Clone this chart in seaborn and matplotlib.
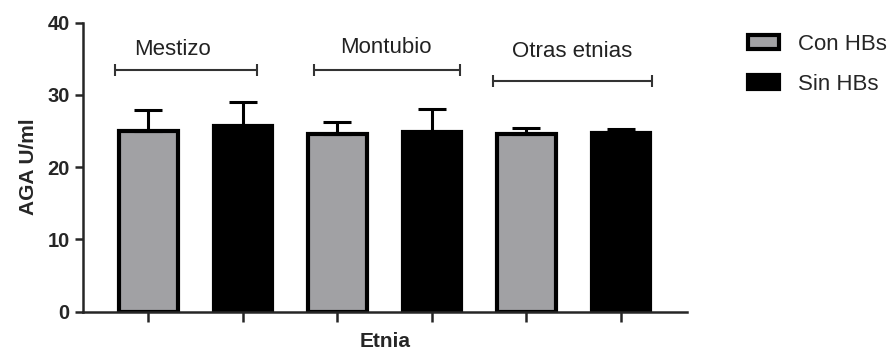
import seaborn as sns
import matplotlib.pyplot as plt
import pandas as pd
import numpy as np

# valores (media y error superior)
etnias = ["Mestizo", "Montubio", "Otras etnias"]
grupos = ["Con HBs", "Sin HBs"]
media_con = [25.0, 24.6, 24.6]
media_sin = [25.7, 24.9, 24.7]
error_con = [2.9, 1.6, 0.8]
error_sin = [3.3, 3.2, 0.6]

# corchetes sobre cada etnia: inicio, fin, altura; posicion del texto
corchete_ini = [-0.35, 1.75, 3.65]
corchete_fin = [1.15, 3.30, 5.33]
corchete_y = [33.4, 33.4, 31.9]
texto_x = [0.26, 2.51, 4.48]
texto_y = [36.3, 36.5, 36.0]

rows = []
for i, et in enumerate(etnias):
	rows.append({"pos": et + " Con", "valor": media_con[i], "err": error_con[i], "grupo": grupos[0]})
	rows.append({"pos": et + " Sin", "valor": media_sin[i], "err": error_sin[i], "grupo": grupos[1]})
df = pd.DataFrame(rows)

sns.set_style("ticks")
plt.rcParams['font.family'] = ['Liberation Sans', 'DejaVu Sans']

fig = plt.figure(figsize=(8.91, 3.54), dpi=100)
ax = fig.add_axes([0.0932, 0.1195, 0.678, 0.8165])

sns.barplot(data=df, x="pos", y="valor", hue="grupo", dodge=False, width=0.62,
	palette={"Con HBs": "#a0a0a5", "Sin HBs": "black"}, edgecolor="black",
	linewidth=3, errorbar=None, ax=ax)

xs = np.arange(len(df))
ax.errorbar(xs, df["valor"], yerr=[np.zeros(len(df)), df["err"]], fmt="none",
	ecolor="black", elinewidth=2.2, capsize=10, capthick=2.2, zorder=1)

for i, et in enumerate(etnias):
	ax.plot([corchete_ini[i], corchete_fin[i]], [corchete_y[i]] * 2, color="#333333",
		lw=1.5, marker="|", markersize=9, mew=1.5, clip_on=False)
	ax.text(texto_x[i], texto_y[i], et, ha="center", va="center", fontsize=16, color="#222222")

ax.set_ylim(0, 40)
ax.set_xlim(-0.69, 5.70)
ax.set_yticks([0, 10, 20, 30, 40])
ax.set_xticks(xs)
ax.set_xticklabels([])
ax.tick_params(axis="both", width=1.8, length=6, labelsize=14.5)
ax.tick_params(axis="x", length=7)
for lab in ax.get_yticklabels():
	lab.set_fontweight("bold")
for sp in ["left", "bottom"]:
	ax.spines[sp].set_linewidth(1.8)
sns.despine(ax=ax)

ax.set_ylabel("AGA U/ml", fontsize=15, fontweight="bold", labelpad=7)
ax.set_xlabel("Etnia", fontsize=15, fontweight="bold", labelpad=4)

sns.move_legend(ax, "upper left", bbox_to_anchor=(0.8395, 0.905), bbox_transform=fig.transFigure,
	frameon=False, title=None, fontsize=16, handlelength=1.4, handleheight=0.6,
	handletextpad=0.85, labelspacing=0.85, borderpad=0, borderaxespad=0)

fig.savefig("out.png", dpi=100)
